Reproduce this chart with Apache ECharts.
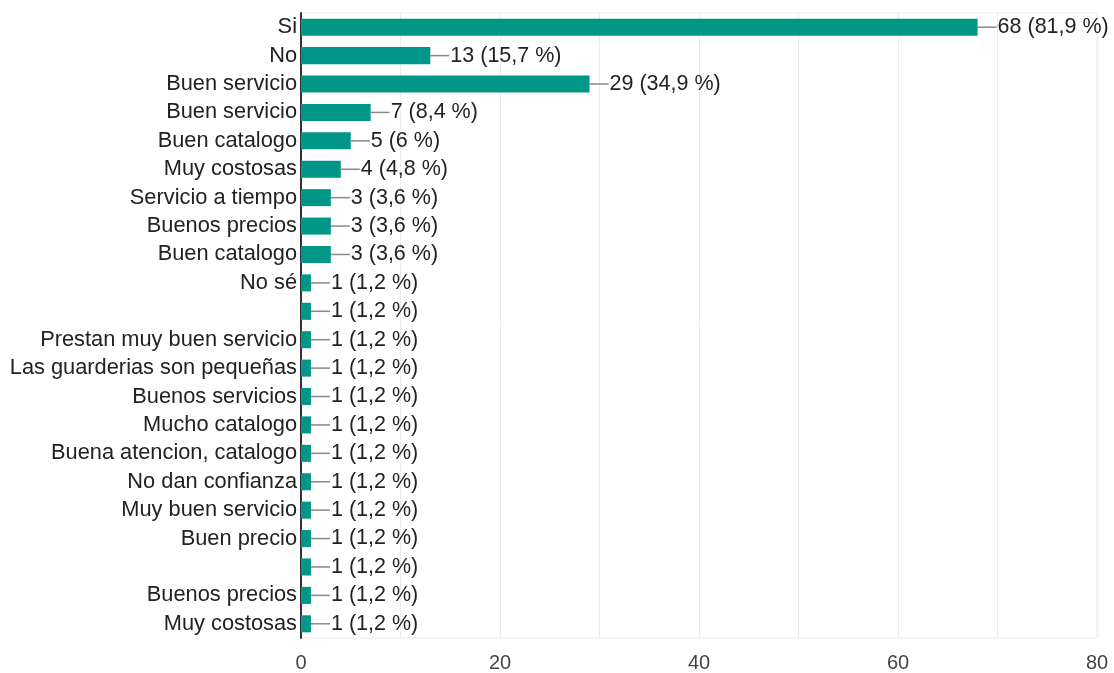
<!DOCTYPE html>
<html><head><meta charset="utf-8">
<script src="https://cdn.jsdelivr.net/npm/echarts@6/dist/echarts.min.js"></script>
<style>html,body{margin:0;padding:0;background:#fff}#c{width:1114px;height:673px}</style>
</head><body><div id="c"></div>
<script>
var categories = ["Si","No","Buen servicio","Buen servicio","Buen catalogo","Muy costosas","Servicio a tiempo","Buenos precios","Buen catalogo","No sé","","Prestan muy buen servicio","Las guarderias son pequeñas","Buenos servicios","Mucho catalogo","Buena atencion, catalogo","No dan confianza","Muy buen servicio","Buen precio","","Buenos precios","Muy costosas"];
var values = [68,13,29,7,5,4,3,3,3,1,1,1,1,1,1,1,1,1,1,1,1,1];
var percents = ["81,9","15,7","34,9","8,4","6","4,8","3,6","3,6","3,6","1,2","1,2","1,2","1,2","1,2","1,2","1,2","1,2","1,2","1,2","1,2","1,2","1,2"];
var xTicks = {min:0, max:80, interval:20};

var chart = echarts.init(document.getElementById('c'));
chart.setOption({
  animation:false,
  textStyle:{fontFamily:'Arial, "Liberation Sans", sans-serif'},
  grid:{left:301, right:17, top:13, bottom:33, show:true, borderColor:'#ececec', borderWidth:1},
  xAxis:{type:'value', min:xTicks.min, max:xTicks.max, interval:10,
    axisLine:{show:false}, axisTick:{show:false},
    splitLine:{lineStyle:{color:'#ececec', width:1}},
    axisLabel:{color:'#444', fontSize:20, margin:15,
      formatter:function(v){return v%xTicks.interval===0? String(v):'';}}
  },
  yAxis:{type:'category', inverse:true, data:categories,
    axisLine:{lineStyle:{color:'#333', width:2}}, axisTick:{show:false},
    axisLabel:{color:'#222', fontSize:21.8, margin:4, interval:0}
  },
  series:[{type:'bar', data:values, barCategoryGap:'40%',
    itemStyle:{color:'#009688'},
    label:{show:true, position:'right', distance:0,
      formatter:function(p){return '{l|}{t|'+values[p.dataIndex]+' ('+percents[p.dataIndex]+' %)}';},
      rich:{
        l:{width:19, height:1.5, backgroundColor:'#888', verticalAlign:'middle'},
        t:{color:'#222', fontSize:21.5, padding:[0,0,0,1], verticalAlign:'middle'}
      }
    }
  }]
});
</script></body></html>
